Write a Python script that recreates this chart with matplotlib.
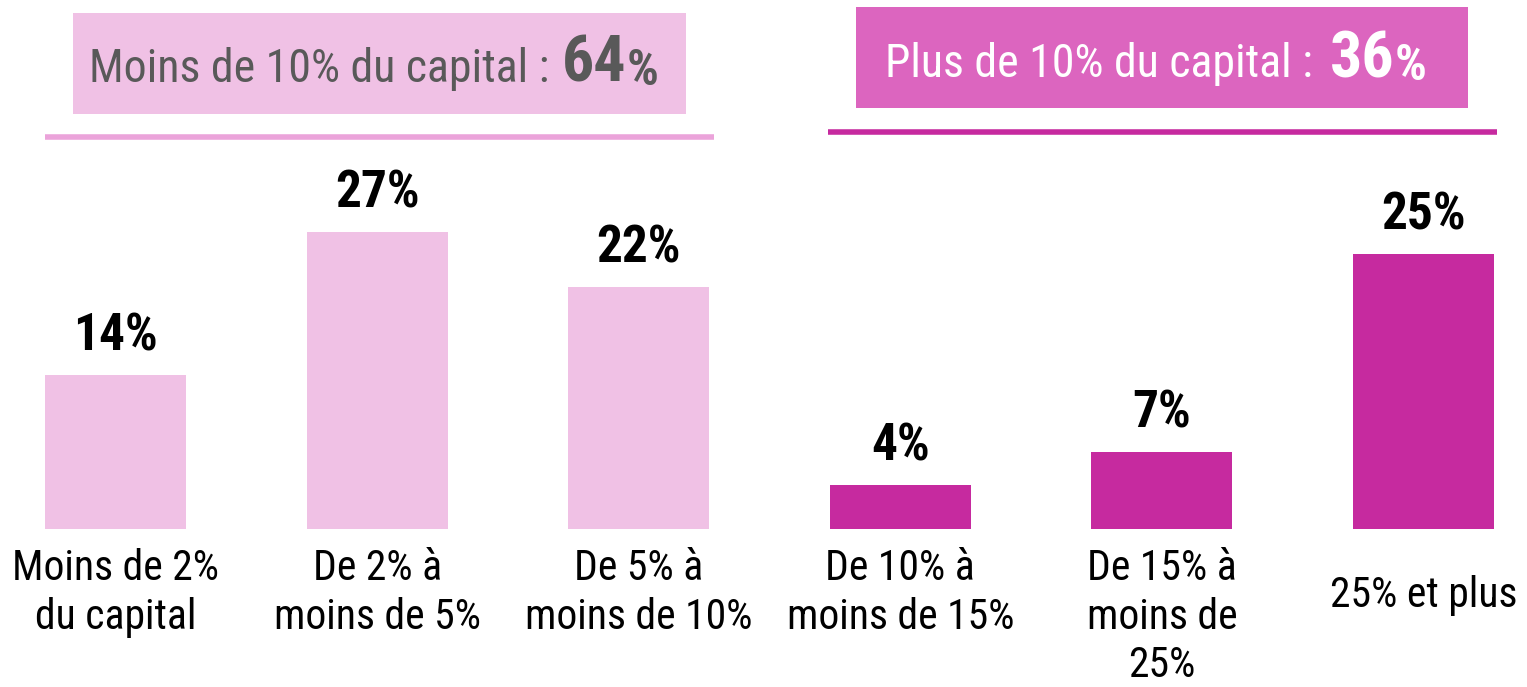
import matplotlib.pyplot as plt
from matplotlib.patches import Rectangle

categories = ["Moins de 2%\ndu capital", "De 2% à\nmoins de 5%", "De 5% à\nmoins de 10%",
              "De 10% à\nmoins de 15%", "De 15% à\nmoins de\n25%", "25% et plus"]
values = [14, 27, 22, 4, 7, 25]
groups = [0, 0, 0, 1, 1, 1]
group_titles = ["Moins de 10% du capital : ", "Plus de 10% du capital : "]
group_totals = ["64", "36"]

bar_colors = ["#F0C1E5", "#C62A9F"]
box_colors = ["#F0C1E5", "#DC65BF"]
line_colors = ["#EBA3DA", "#C62A9F"]
title_colors = ["#595959", "white"]

plt.rcParams['font.family'] = ["Roboto Condensed", "Fira Sans Condensed", "DejaVu Sans"]

fig = plt.figure(figsize=(15.27, 6.87), dpi=100)

# bars in data coordinates (x = index, y = percent)
ax = fig.add_axes([0, 0, 1, 1])
ax.set_xlim(-0.4415, 5.3956)
ax.set_ylim(-14.36, 48.09)
ax.axis("off")
x = list(range(len(values)))
ax.bar(x, values, width=0.539, color=[bar_colors[g] for g in groups])

for xi, v, lab in zip(x, values, categories):
    ax.annotate(f"{v}%", (xi, v), xytext=(0, 17.3), textcoords="offset points",
                ha="center", va="baseline", fontsize=37, fontweight="bold", color="black")
    nl = lab.count("\n") + 1
    dy = -13.7 if nl > 1 else -33.0
    ax.annotate(lab, (xi, 0), xytext=(0, dy), textcoords="offset points",
                ha="center", va="top", fontsize=30, color="black", linespacing=1.24)

# header decorations in pixel coordinates
ov = fig.add_axes([0, 0, 1, 1], facecolor="none")
ov.set_xlim(0, 1527)
ov.set_ylim(687, 0)
ov.axis("off")

boxes = [(73, 13, 613, 101), (856, 7, 612, 101)]
lines = [(45, 714, 137), (828, 1497, 132)]
title_right = [(560, 82), (1323, 77)]
total_left = [562, 1330]
for g in range(2):
    bx, by, bw, bh = boxes[g]
    ov.add_patch(Rectangle((bx, by), bw, bh, color=box_colors[g], lw=0))
    x0, x1, ly = lines[g]
    ov.plot([x0, x1], [ly, ly], color=line_colors[g], lw=4, solid_capstyle="butt")
    sx, sy = title_right[g]
    ov.text(sx, sy, group_titles[g], ha="right", va="baseline", fontsize=33,
            color=title_colors[g])
    t = ov.text(total_left[g], sy, group_totals[g], ha="left", va="baseline", fontsize=46,
                fontweight="bold", color=title_colors[g])
    ov.annotate("%", xy=(1, 0), xycoords=t, xytext=(0, 0), textcoords="offset points",
                ha="left", va="bottom", fontsize=36, fontweight="bold",
                color=title_colors[g])

fig.savefig("out.png", dpi=100)
